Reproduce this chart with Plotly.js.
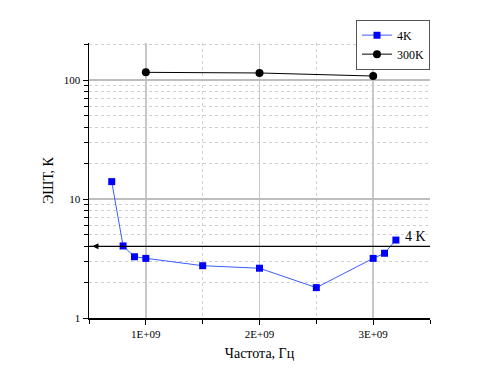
<!DOCTYPE html>
<html><head><meta charset="utf-8">
<script src="https://cdn.plot.ly/plotly-3.0.1.min.js"></script>
<style>body{margin:0;background:#fff}#c{width:500px;height:382px}
#c svg text{font-family:"Liberation Serif","Times New Roman",serif !important}</style>
</head><body><div id="c"></div>
<script>
const freq4K = [0.7e9, 0.8e9, 0.9e9, 1.0e9, 1.5e9, 2.0e9, 2.5e9, 3.0e9, 3.1e9, 3.2e9];
const temp4K = [14.0, 4.03, 3.27, 3.17, 2.75, 2.62, 1.80, 3.17, 3.50, 4.52];
const freq300K = [1.0e9, 2.0e9, 3.0e9];
const temp300K = [116, 114.6, 108];
const refLevel = 4;
const xTickVals = [1e9, 2e9, 3e9];
const xTickText = ['1E+09', '2E+09', '3E+09'];
const F = 'Liberation Serif';

const traces = [
  {x: freq4K, y: temp4K, name: '4K', mode: 'lines+markers', type: 'scatter',
   line: {color: '#3a5cff', width: 1}, marker: {symbol: 'square', size: 7, color: '#0000ff'}},
  {x: freq300K, y: temp300K, name: '300K', mode: 'lines+markers', type: 'scatter',
   line: {color: '#000', width: 1}, marker: {symbol: 'circle', size: 8, color: '#000'}}
];
const layout = {
  width: 500, height: 382,
  margin: {l: 89, r: 70, t: 43, b: 64},
  paper_bgcolor: '#fff', plot_bgcolor: '#fff',
  font: {family: F, size: 11, color: '#000'},
  showlegend: true,
  legend: {x: 1, xanchor: 'right', y: 1.085, yanchor: 'top', bordercolor: '#555', borderwidth: 1,
           bgcolor: '#fff', font: {family: F, size: 12, color: '#000'}, tracegroupgap: 0, itemwidth: 30},
  xaxis: {range: [0.5e9, 3.5e9], tickvals: xTickVals, ticktext: xTickText,
          tickfont: {family: F, size: 11, color: '#000'},
          ticks: 'outside', ticklen: 5, tickcolor: '#000', showline: true, linecolor: '#000', linewidth: 1.5,
          showgrid: true, gridcolor: '#c8c8c8', gridwidth: 1.5, zeroline: false,
          minor: {tick0: 0, dtick: 0.5e9, ticks: 'outside', ticklen: 4, tickcolor: '#000',
                  showgrid: true, gridcolor: '#d0d0d0', griddash: 'dot', gridwidth: 1},
          title: {text: 'Частота, Гц', font: {family: F, size: 14}, standoff: 9}},
  yaxis: {type: 'log', range: [0, 2.311], dtick: 1, ticks: 'outside', ticklen: 5, tickcolor: '#000',
          tickfont: {family: F, size: 11, color: '#000'},
          showline: true, linecolor: '#000', linewidth: 1.5,
          showgrid: true, gridcolor: '#bdbdbd', gridwidth: 1.5, zeroline: false,
          minor: {dtick: 'D1', ticks: 'outside', ticklen: 4, tickcolor: '#000',
                  showgrid: true, gridcolor: '#d0d0d0', griddash: 'dot', gridwidth: 1},
          title: {text: 'ЭШТ, К', font: {family: F, size: 14}, standoff: 7}},
  shapes: [{type: 'line', xref: 'paper', x0: 0, x1: 1, yref: 'y', y0: refLevel, y1: refLevel,
            line: {color: '#000', width: 1.2}}],
  annotations: [
    {x: 0.53e9, y: Math.log10(refLevel), xref: 'x', yref: 'y', ax: 0.6e9, ay: Math.log10(refLevel),
     axref: 'x', ayref: 'y', showarrow: true, arrowhead: 2, arrowsize: 1, arrowwidth: 1.2, arrowcolor: '#000', text: ''},
    {x: 3.5e9, y: Math.log10(refLevel), xref: 'x', yref: 'y', xanchor: 'right', yanchor: 'bottom',
     text: '4 K', showarrow: false, font: {family: F, size: 14}, xshift: -2}
  ]
};
Plotly.newPlot('c', traces, layout, {staticPlot: true});
</script></body></html>
